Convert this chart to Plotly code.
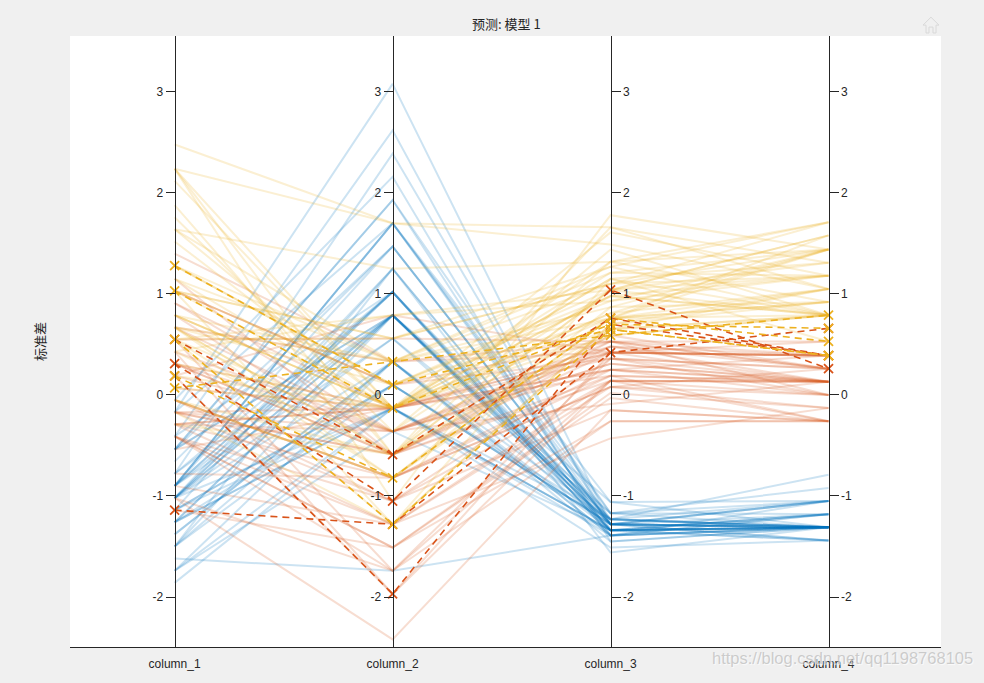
import plotly.graph_objects as go

columns = ["column_1", "column_2", "column_3", "column_4"]
y_ticks = [-2, -1, 0, 1, 2, 3]
y_tick_labels = ["-2", "-1", "0", "1", "2", "3"]

blue_rows = [
[-0.90,1.02,-1.34,-1.31],[-1.14,-0.13,-1.34,-1.31],[-1.38,0.33,-1.39,-1.31],[-1.50,0.10,-1.28,-1.31],[-1.02,1.25,-1.34,-1.31],
[-0.54,1.93,-1.17,-1.05],[-1.50,0.79,-1.34,-1.18],[-1.02,0.79,-1.28,-1.31],[-1.74,-0.36,-1.34,-1.31],[-1.14,0.10,-1.28,-1.44],
[-0.54,1.47,-1.28,-1.31],[-1.26,0.79,-1.23,-1.31],[-1.26,-0.13,-1.34,-1.44],[-1.86,-0.13,-1.51,-1.44],[-0.05,2.16,-1.45,-1.31],
[-0.17,3.08,-1.28,-1.05],[-0.54,1.93,-1.39,-1.05],[-0.90,1.02,-1.34,-1.18],[-0.17,1.70,-1.17,-1.18],[-0.90,1.70,-1.28,-1.18],
[-0.54,0.79,-1.17,-1.31],[-0.90,1.47,-1.28,-1.05],[-1.50,1.25,-1.56,-1.31],[-0.90,0.56,-1.17,-0.92],[-1.26,0.79,-1.06,-1.31],
[-1.02,-0.13,-1.23,-1.31],[-1.02,0.79,-1.23,-1.05],[-0.78,1.02,-1.28,-1.31],[-0.78,0.79,-1.34,-1.31],[-1.38,0.33,-1.23,-1.31],
[-1.26,0.10,-1.23,-1.31],[-0.54,0.79,-1.28,-1.05],[-0.78,2.39,-1.28,-1.44],[-0.41,2.62,-1.34,-1.31],[-1.14,0.10,-1.28,-1.31],
[-1.02,0.33,-1.45,-1.31],[-0.41,1.02,-1.39,-1.31],[-1.14,1.25,-1.34,-1.44],[-1.74,-0.13,-1.39,-1.31],[-0.90,0.79,-1.28,-1.31],
[-1.02,1.02,-1.39,-1.18],[-1.62,-1.74,-1.39,-1.18],[-1.74,0.33,-1.39,-1.31],[-1.02,1.02,-1.23,-0.79],[-0.90,1.70,-1.06,-1.05],
[-1.26,-0.13,-1.34,-1.18],[-0.90,1.70,-1.23,-1.31],[-1.50,0.33,-1.34,-1.31],[-0.66,1.47,-1.28,-1.31],[-1.02,0.56,-1.34,-1.31],
]

orange_rows = [
[1.40,0.33,0.53,0.26],[0.67,0.33,0.42,0.39],[-0.41,-1.74,0.14,0.13],[0.79,-0.59,0.48,0.39],[-0.17,-0.59,0.42,0.13],
[0.55,0.56,0.53,0.53],[-1.14,-1.51,-0.26,-0.26],[0.91,-0.36,0.48,0.13],[-0.78,-0.82,0.08,0.26],[-1.02,-2.42,-0.15,-0.26],
[0.07,-0.13,0.25,0.39],[0.19,-1.97,0.14,-0.26],[0.31,-0.36,0.53,0.26],[-0.29,-0.36,-0.09,0.13],[1.03,0.10,0.36,0.26],
[-0.29,-0.13,0.42,0.39],[-0.05,-0.82,0.19,-0.26],[0.43,-1.97,0.42,0.39],[-0.29,-1.28,0.08,-0.13],[0.31,-0.59,0.14,0.13],
[0.31,-0.59,0.53,0.00],[0.67,-0.36,0.31,0.13],[0.91,-0.13,0.36,0.26],[1.15,-0.59,0.59,0.26],[0.19,-0.36,0.42,0.39],
[-0.17,-1.05,-0.15,-0.26],[-0.41,-1.51,0.02,-0.13],[-0.41,-1.51,-0.03,-0.26],[-0.05,-0.82,0.08,0.00],[-0.54,-0.13,0.42,0.39],
[0.19,0.79,0.42,0.53],[1.03,0.10,0.53,0.39],[0.55,-1.74,0.36,0.13],[-0.29,-0.13,0.19,0.13],[-0.41,-1.28,0.14,0.13],
[-0.41,-1.05,0.36,0.00],[0.31,-0.13,0.48,0.26],[-0.05,-1.05,0.14,0.00],[-1.02,-1.74,-0.26,-0.26],[-0.29,-0.82,0.25,0.13],
[-0.17,-0.13,0.25,0.00],[-0.17,-0.36,0.25,0.13],[0.43,-0.36,0.31,0.13],[-0.90,-1.28,-0.43,-0.13],[-0.17,-0.59,0.19,0.13],
]

yellow_rows = [
[0.55,0.56,1.27,1.71],[-0.05,-0.82,0.76,0.92],[1.52,-0.13,1.21,1.18],[0.55,-0.36,1.04,0.79],[0.79,-0.13,1.15,1.31],
[2.12,-0.13,1.61,1.18],[1.76,-0.36,1.44,0.79],[1.03,-1.28,1.15,0.79],[1.64,1.25,1.32,1.71],[0.79,0.33,0.76,1.05],
[0.67,-0.82,0.87,0.92],[1.15,-0.13,0.98,1.18],[-0.17,-1.28,0.70,1.05],[-0.05,-0.59,0.76,1.58],[0.67,0.33,0.87,1.44],
[0.79,-0.13,0.98,0.79],[2.24,1.70,1.66,1.31],[2.24,-1.05,1.78,1.44],[1.28,0.33,1.10,1.44],[-0.29,-0.59,0.65,1.05],
[2.24,-0.59,1.66,1.05],[0.55,-0.82,0.65,0.79],[1.03,0.56,1.10,1.18],[1.64,0.33,1.27,0.79],[0.43,-0.59,0.59,0.79],
[0.31,-0.13,0.65,0.79],[0.67,-0.59,1.04,1.18],[1.64,-0.13,1.15,0.53],[1.88,-0.59,1.32,0.92],[2.48,1.70,1.49,1.05],
[0.67,-0.59,1.04,1.31],[2.24,-0.13,1.32,1.44],[0.55,0.79,1.04,1.58],[0.67,0.10,0.98,0.79],[0.19,-0.13,0.59,0.79],
[1.28,0.10,0.93,1.18],[1.03,0.10,1.04,1.58],[1.28,0.10,0.76,1.44],[-0.05,-0.82,0.76,0.92],[1.15,0.33,1.21,1.44],
[1.03,0.56,1.10,1.71],[1.03,-0.13,0.81,1.44],[0.55,-1.28,0.70,0.92],[0.79,-0.13,0.81,1.05],[0.43,0.79,0.93,1.44],
[0.07,-0.13,0.76,0.79],
]

orange_dashed_rows = [
[-1.14,-1.28,0.42,0.66],[0.19,-1.97,0.70,0.39],[0.55,-0.59,0.76,0.39],[0.31,-1.05,1.04,0.26],
]
yellow_dashed_rows = [
[1.28,0.10,0.65,0.39],[0.07,0.33,0.59,0.79],[0.55,-1.28,0.65,0.39],[1.03,-0.13,0.70,0.66],[0.19,-0.82,0.76,0.53],
]

BLUE, ORANGE, YELLOW = "0,114,189", "217,83,25", "237,177,32"
TEXT = "#262626"
X_RANGE = [0.52, 4.516]
Y_RANGE = [-2.495, 3.554]
xs = [1, 2, 3, 4]
fig = go.Figure()

for rows, col in ((blue_rows, BLUE), (orange_rows, ORANGE), (yellow_rows, YELLOW)):
    for r in rows:
        fig.add_trace(go.Scatter(x=xs, y=r, mode="lines", showlegend=False, hoverinfo="skip",
                                 line=dict(color=f"rgba({col},0.2)", width=2)))
for rows, col in ((orange_dashed_rows, ORANGE), (yellow_dashed_rows, YELLOW)):
    for r in rows:
        fig.add_trace(go.Scatter(x=xs, y=r, mode="lines+markers", showlegend=False, hoverinfo="skip",
                                 line=dict(color=f"rgb({col})", width=1.6, dash="7px,5px"),
                                 marker=dict(symbol="x-thin", size=9,
                                             line=dict(color=f"rgb({col})", width=1.8))))

# one vertical axis per column; empty helper traces keep the extra axes alive
for i in range(2, 5):
    fig.add_trace(go.Scatter(x=[None], y=[None], yaxis=f"y{i}", showlegend=False, hoverinfo="skip"))

def y_axis(col, side):
    return dict(range=Y_RANGE, side=side, anchor="free",
                position=(col - X_RANGE[0]) / (X_RANGE[1] - X_RANGE[0]),
                tickmode="array", tickvals=y_ticks, ticktext=y_tick_labels,
                ticks="outside", ticklen=9, tickwidth=1, tickcolor=TEXT,
                showline=True, linecolor=TEXT, linewidth=1, showgrid=False, zeroline=False,
                tickfont=dict(family="Liberation Sans", size=12, color=TEXT))

L, T, W, H = 70, 36, 871, 617
def px(x, y):
    return f"{(x - L) / W:.4f},{1 - (y - T) / H:.4f}"
house = ("M" + px(923, 25) + " L" + px(931, 17) + " L" + px(939, 25) + " L" + px(936, 25)
         + " L" + px(936, 33) + " L" + px(933, 33) + " L" + px(933, 27) + " L" + px(929, 27)
         + " L" + px(929, 33) + " L" + px(926, 33) + " L" + px(926, 25) + " Z")

fig.update_layout(
    width=984, height=683, autosize=False,
    margin=dict(l=L, r=984 - L - W, t=T, b=683 - T - H),
    paper_bgcolor="#F0F0F0", plot_bgcolor="white", showlegend=False,
    font=dict(family="Liberation Sans", size=12, color=TEXT),
    xaxis=dict(range=X_RANGE, tickmode="array", tickvals=xs, ticktext=columns, ticks="",
               showline=True, linecolor=TEXT, linewidth=1, showgrid=False, zeroline=False,
               ticklabelstandoff=6,
               tickfont=dict(family="Liberation Sans", size=12, color=TEXT)),
    yaxis=y_axis(1, "left"),
    yaxis2=dict(y_axis(2, "left"), overlaying="y"),
    yaxis3=dict(y_axis(3, "right"), overlaying="y"),
    yaxis4=dict(y_axis(4, "right"), overlaying="y"),
    shapes=[dict(type="path", xref="paper", yref="paper", path=house,
                 line=dict(color="#d9d9d9", width=1))],
    annotations=[
        dict(text="预测: 模型 1", xref="paper", yref="paper", x=(506 - L) / W, y=1 - (23 - T) / H,
             xanchor="center", yanchor="middle",
             showarrow=False, font=dict(family="Noto Sans CJK SC", size=13, color=TEXT)),
        dict(text="标准差", xref="paper", yref="paper", x=(40 - L) / W, y=1 - (345 - T) / H,
             xanchor="center", yanchor="middle",
             textangle=-90, showarrow=False, font=dict(family="Noto Sans CJK SC", size=13, color=TEXT)),
        dict(text="https://blog.csdn.net/qq1198768105", xref="paper", yref="paper",
             x=(975 - L) / W, y=1 - (664 - T) / H, xanchor="right", yanchor="middle", showarrow=False,
             font=dict(family="Liberation Sans", size=16.5, color="rgba(190,190,190,0.75)",
                       shadow="1px 1px 1px white")),
    ],
)
fig.write_html("out.html", config=dict(displayModeBar=False),
               post_script="document.body.style.margin='0';document.documentElement.style.overflow='hidden';")
